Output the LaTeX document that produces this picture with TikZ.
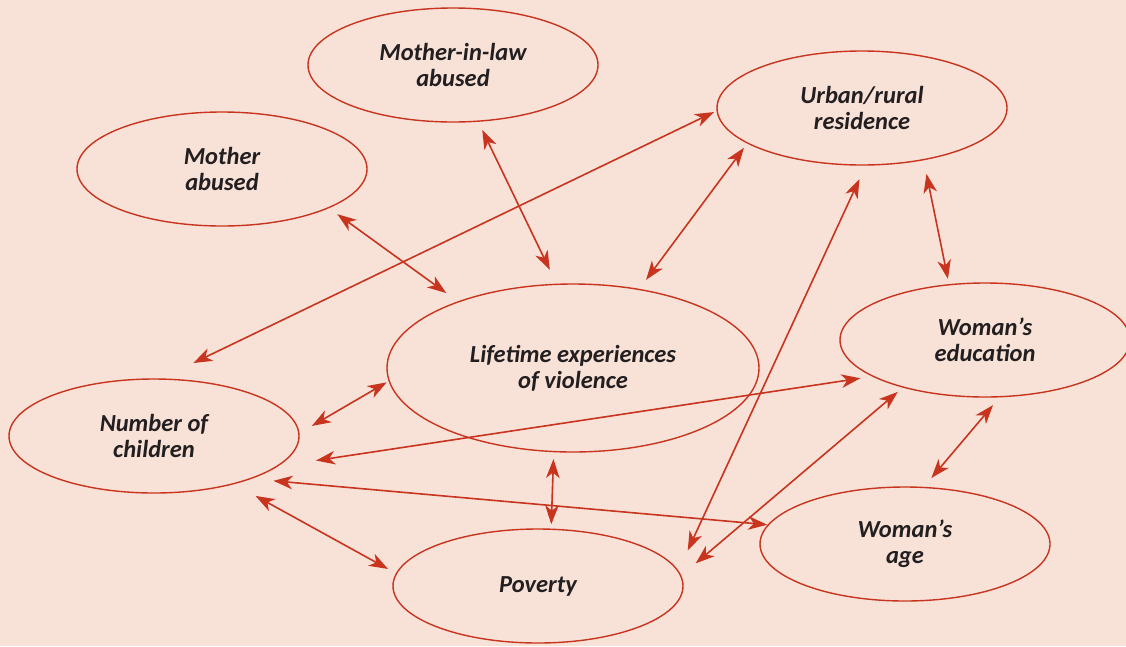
\documentclass[tikz,border=0pt]{standalone}
\usepackage{fontspec}
\setmainfont{Carlito}
\usetikzlibrary{arrows.meta,shapes.geometric}
\definecolor{paper}{RGB}{248,226,216}
\definecolor{linkred}{RGB}{200,52,30}
\definecolor{ink}{RGB}{35,31,32}
\tikzstyle{factor} = [ellipse, draw=linkred, line width=1.4pt, minimum width=290pt, minimum height=114pt, inner sep=0pt, outer sep=0pt, align=center, text=ink, font=\fontsize{24.5}{26}\selectfont\bfseries\itshape]
\tikzstyle{bigfactor} = [factor, minimum width=372pt, minimum height=168pt]
\tikzstyle{link} = [{Stealth[length=19pt,width=13.5pt,inset=5.5pt]}-{Stealth[length=19pt,width=13.5pt,inset=5.5pt]}, draw=linkred, line width=1.6pt]
\begin{document}
\begin{tikzpicture}[x=1pt, y=-1pt]
      \useasboundingbox (0,0) rectangle (1126,646);
      \fill[paper] (0,0) rectangle (1126,646);
      % factors
      \node[factor](mil) at (453,65){Mother-in-law\\abused};
      \node[factor](mother) at (222,169){Mother\\abused};
      \node[factor](urban) at (862,108){Urban/rural\\residence};
      \node[bigfactor](life) at (573,368){Lifetime experiences\\of violence};
      \node[factor](edu) at (985,340){Woman’s\\education};
      \node[factor](child) at (154,436){Number of\\children};
      \node[factor](age) at (905,544){Woman’s\\age};
      \node[factor](poverty) at (538,586){Poverty};
      % links
      \draw [link, shorten <=9.8pt, shorten >=16pt] (mil.-66) -- (life.101);
      \draw [link, shorten <=11pt, shorten >=15pt] (mother.-20) -- (life.150);
      \draw [link, shorten <=3.5pt, shorten >=37pt] (urban.181) -- (child.84);
      \draw [link, shorten <=6pt, shorten >=12pt] (urban.197) -- (life.50);
      \draw [link, shorten <=15.5pt, shorten >=23pt] (urban.-86) -- (poverty.6);
      \draw [link, shorten <=14.6pt, shorten >=6pt] (urban.-40) -- (edu.123);
      \draw [link, shorten <=3pt, shorten >=15pt] (life.184) -- (child.1);
      \draw [link, shorten <=13pt, shorten >=40pt] (edu.198) -- (child.-14);
      \draw [link, shorten <=7.5pt, shorten >=5pt] (life.257) -- (poverty.77);
      \draw [link, shorten <=23.6pt, shorten >=1.2pt] (child.-24) -- (age.172);
      \draw [link, shorten <=25.3pt, shorten >=9.6pt] (child.-31) -- (poverty.175);
      \draw [link, shorten <=7.4pt, shorten >=19.6pt] (edu.210) -- (poverty.4);
      \draw [link, shorten <=11pt, shorten >=12.4pt] (edu.-75) -- (age.72);
\end{tikzpicture}
\end{document}
